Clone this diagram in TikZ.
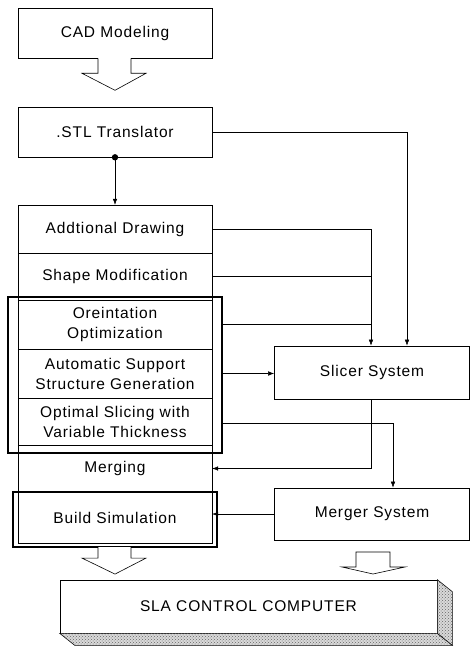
\documentclass[tikz,border=0pt]{standalone}
\usepackage{fontspec}
\setmainfont{Liberation Sans}[LetterSpace=5.5]
\usetikzlibrary{arrows.meta,calc,patterns}
\begin{document}
\begin{tikzpicture}[x=1pt,y=-1pt,
  every node/.style={font=\fontsize{15.5}{20}\selectfont, align=center, inner sep=0pt},
  box/.style={draw, line width=0.6pt, minimum width=194, fill=white},
  sidebox/.style={draw, line width=0.6pt, minimum width=195},
  row/.style={minimum width=194},
  heavy/.style={draw, line width=2.2pt},
  conn/.style={line width=0.5pt},
  arr/.style={conn, -{Latex[length=6pt,width=4.5pt]}},
  hollow/.style={draw, line width=0.6pt, fill=white},
  shade/.style={draw, line width=0.6pt, fill=gray!30},
  stipple/.style={pattern=crosshatch dots, pattern color=gray!80!black}]
\useasboundingbox (0,0) rectangle (471,647);

% top boxes
\node[box, minimum height=50] (cad) at (115,33) {CAD Modeling};
\node[box, minimum height=50] (stl) at (115,132) {.STL Translator};

% hollow arrow CAD -> STL
\fill[white] ([xshift=-17pt]cad.south) rectangle ([xshift=16pt,yshift=-15pt]cad.south);
\draw[line width=0.6pt] ([xshift=-17pt]cad.south) -- ++(0,15) -- ++(-16,0) -- ($(cad.south)+(0,32)$)
   -- ($(cad.south)+(31,15)$) -- ++(-15,0) -- ++(0,-15);

% column rows
\node[row, minimum height=48] (add) at (115,229) {Addtional Drawing};
\node[row, minimum height=47] (shape) at (115,276.5) {Shape Modification};
\node[row, minimum height=49] (orient) at (115,324.5) {Oreintation\\Optimization};
\node[row, minimum height=49] (auto) at (115,373.5) {Automatic Support\\Structure Generation};
\node[row, minimum height=47] (optim) at (115,421.5) {Optimal Slicing with\\Variable Thickness};
\node[row, minimum height=47] (merge) at (115,468.5) {Merging};
\node[row, minimum height=51] (build) at (115,517.5) {Build Simulation};

% column outline and separators
\draw[line width=0.6pt] (add.north west) rectangle (build.south east);
\foreach \r in {add,shape,orient,auto,optim,merge}
  \draw[line width=0.6pt] (\r.south west) -- (\r.south east);

% heavy group boxes
\node[heavy, minimum width=214, minimum height=156] (grp) at (115,375) {};
\node[heavy, minimum width=204, minimum height=55] (bsim) at (115,519.5) {};

% hollow arrow Build Simulation -> SLA
\fill[white] ([xshift=-17pt,yshift=1.2pt]bsim.south) rectangle ([xshift=16pt,yshift=-10pt]bsim.south);
\draw[line width=0.6pt] ([xshift=-17pt,yshift=1.1pt]bsim.south) -- ++(0,11.1) -- ++(-16,0) -- ($(bsim.south)+(0,26)$)
   -- ($(bsim.south)+(31,10)$) -- ++(-15,0) -- ++(0,-11.1);

% right boxes
\node[sidebox, minimum height=53] (slicer) at (372,372.5) {Slicer System};
\node[sidebox, minimum height=52] (merger) at (372,514) {Merger System};
\coordinate (sin) at ([xshift=-1pt]slicer.north);
\coordinate (sin2) at ([xshift=35pt]slicer.north);
\coordinate (sout) at ([xshift=-1pt]slicer.south);
\coordinate (min) at ([xshift=21pt]merger.north);

% STL dot and arrow
\fill (stl.south) circle (3.2pt);
\draw[arr] (stl.south) -- (add.north);

% connectors to slicer
\draw[arr] (stl.east) -| (sin2);
\draw[arr] (add.east) -| (sin);
\draw[conn] (shape.east) -- (shape.east -| sin);
\draw[conn] (orient.east -| grp.east) -- (orient.east -| sin);
\draw[arr] (auto.east -| grp.east) -- (auto.east -| slicer.west);

% slicer -> merging
\draw[arr] (sout) |- (merge.east);
% optimal slicing -> merger
\draw[arr] ([yshift=-2pt]optim.east -| grp.east) -| (min);
% merger -> build simulation
\draw[arr] (merger.west) -- (merger.west -| build.east);

% SLA control computer (3D slab)
\node[draw, line width=0.6pt, minimum width=377, minimum height=53] (sla) at (248.5,606.5) {SLA CONTROL COMPUTER};
\draw[shade] (sla.south west) -- (sla.south east) -- ++(15,12) -- ($(sla.south west)+(15,12)$) -- cycle;
\fill[stipple] (sla.south west) -- (sla.south east) -- ++(15,12) -- ($(sla.south west)+(15,12)$) -- cycle;
\draw[shade] (sla.north east) -- ++(15,12) -- ($(sla.south east)+(15,12)$) -- (sla.south east) -- cycle;
\fill[stipple] (sla.north east) -- ++(15,12) -- ($(sla.south east)+(15,12)$) -- (sla.south east) -- cycle;

% hollow arrow Merger -> SLA
\draw[hollow] (356,552) -- (356,567) -- (342,567) -- (373,574) -- (405,567) -- (390,567) -- (390,552) -- cycle;
\end{tikzpicture}
\end{document}
